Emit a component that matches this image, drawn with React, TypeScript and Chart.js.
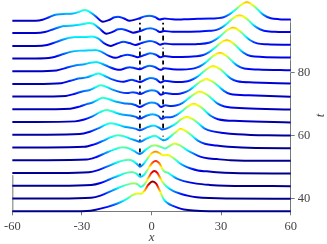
import { useEffect, useRef } from "react";
import { Chart, registerables } from "chart.js";

Chart.register(...registerables);

// time offsets of the stacked profiles (bottom to top)
const times = [36, 40, 44, 48, 52, 56, 60, 64, 68, 72, 76, 80, 84, 88, 92, 96];
const xTicks = [-60, -30, 0, 30, 60];
const tTicks = [40, 60, 80];
const markerX = [-5, 5];
const H_MAX = 9.5;

// profile heights above each baseline: [x, |u|]
const u36 = [[-60,0],[-40,0],[-28,0.1],[-24,0.5],[-19,1.4],[-15,2.4],[-11,3.8],[-8,5.2],[-6,5.7],[-4.5,5.6],[-3,6.5],[-1.5,8.3],[0.5,9.5],[2,8.8],[3.5,6.6],[5.3,3.8],[7,2.6],[9,1.8],[11.5,1.1],[14,0.6],[18,0.25],[25,0.05],[60,0]];
const u40 = [[-60,0.05],[-40,0.05],[-26,0.3],[-22,1.0],[-17,2.6],[-12.5,4.0],[-9,4.8],[-7.5,4.9],[-6,4.6],[-4.5,3.8],[-3,4.6],[-1.2,6.8],[0,8.2],[1.2,8.8],[2.5,8.2],[4,6.2],[5.3,4.8],[7,3.6],[9.5,2.4],[12.5,1.6],[16,0.9],[19.5,0.5],[25,0.2],[32,0.05],[60,0]];
const u44 = [[-60,0.1],[-40,0.1],[-26,0.35],[-22,1.0],[-18,2.2],[-14,3.4],[-10.5,4.3],[-8.5,4.5],[-6.5,4.0],[-4.8,3.0],[-3,3.8],[-1,6.0],[0.5,7.5],[1.9,8.0],[3.3,7.3],[5.3,4.8],[7,4.3],[9,3.3],[11,2.4],[14,1.6],[19.4,0.8],[25,0.4],[32,0.15],[60,0]];
const u48 = [[-60,0.15],[-40,0.15],[-27,0.4],[-23,1.1],[-19,2.3],[-15,3.5],[-12,4.2],[-10,4.4],[-8,4.0],[-6.2,3.0],[-5,2.2],[-3.5,3.0],[-1.5,5.0],[0,6.4],[1.9,6.9],[3.5,6.4],[5,5.8],[7,5.9],[9.5,4.9],[12,3.4],[14,2.5],[17,1.6],[20,1.0],[23.8,0.7],[28,0.4],[35,0.15],[60,0]];
const u52 = [[-60,0.25],[-45,0.25],[-28,0.45],[-24,1.2],[-20,2.5],[-16,3.7],[-12.5,4.4],[-10,4.1],[-7.5,3.2],[-5,2.2],[-2.5,3.6],[0,4.8],[1.5,5.0],[3.5,4.6],[6,4.0],[8,4.9],[10,5.6],[12.5,4.9],[15,3.6],[18,2.4],[21,1.4],[25,0.8],[28,0.6],[34,0.25],[40,0.1],[60,0.05]];
const u56 = [[-60,0.3],[-45,0.3],[-29,0.5],[-25,1.2],[-21,2.4],[-17.5,3.6],[-14.5,4.2],[-12,3.9],[-9.5,3.2],[-7,2.6],[-5,2.1],[-2,3.2],[1.5,4.0],[3.8,3.1],[5,2.6],[6.3,2.8],[7.8,3.6],[10,4.9],[12.5,6.2],[15.5,5.2],[17.5,4.0],[20,2.5],[23,1.5],[28,0.9],[33,0.5],[45,0.1],[60,0.05]];
const u60 = [[-60,0.35],[-45,0.35],[-31,0.55],[-27,1.2],[-23,2.4],[-20,3.5],[-17.5,4.0],[-15,3.7],[-12,3.0],[-9,2.6],[-7,2.3],[-5,1.8],[-2,2.7],[1,3.3],[3.3,2.6],[4.6,2.0],[6,2.2],[7.8,2.8],[10.3,3.8],[12.8,5.3],[15.3,6.0],[18.3,5.1],[20.3,3.9],[22.8,2.4],[26,1.5],[31,0.9],[37,0.5],[50,0.15],[60,0.1]];
const u64 = [[-60,0.4],[-50,0.4],[-33,0.6],[-29,1.2],[-25.5,2.2],[-22,3.6],[-19.5,4.2],[-17,3.8],[-14,3.0],[-11,2.6],[-9,2.5],[-7,2.1],[-5,1.5],[-2.5,2.3],[0.5,2.9],[3,2.3],[4.3,1.4],[6,1.9],[8.2,1.9],[10.7,2.6],[13.2,3.9],[15.7,5.4],[18.2,6.1],[21.2,5.2],[23.2,3.9],[25.7,2.3],[28.7,1.3],[38,0.7],[60,0.25]];
const u68 = [[-60,0.45],[-50,0.45],[-35,0.65],[-31,1.3],[-28,2.1],[-25.5,2.6],[-23,3.5],[-21,4.1],[-18.5,3.7],[-15.5,2.9],[-12,2.4],[-9,2.2],[-7,1.8],[-5,1.2],[-2.5,2.1],[0,2.6],[2.5,2.2],[4.1,1.2],[6,1.7],[8.5,1.5],[10.9,1.7],[13.4,2.5],[15.9,3.9],[18.4,5.3],[20.9,6.0],[23.9,5.1],[25.9,3.9],[28.4,2.3],[31.5,1.3],[40,0.8],[60,0.35]];
const u72 = [[-60,0.5],[-50,0.5],[-37,0.7],[-33,1.4],[-29.5,2.2],[-27,2.5],[-24,3.5],[-22,4.1],[-19.5,3.6],[-16.5,2.6],[-13.5,1.9],[-10.5,1.6],[-8,1.9],[-6.5,1.7],[-5,1.3],[-2.5,2.0],[0,2.5],[2.5,2.1],[4,1.1],[6,1.6],[9,1.3],[11,1.3],[13.7,1.7],[16.2,2.5],[18.7,3.9],[21.2,5.3],[23.7,6.0],[26.7,5.1],[28.7,3.9],[31.2,2.3],[34,1.3],[42,0.9],[60,0.45]];
const u76 = [[-60,0.5],[-50,0.5],[-39,0.75],[-35,1.5],[-31,2.3],[-28,2.6],[-25,3.4],[-23,3.8],[-20.5,3.2],[-17.5,2.1],[-14.5,1.4],[-12,1.2],[-10,1.6],[-8.5,1.8],[-6.8,1.5],[-5,1.1],[-2.5,1.9],[-0.5,2.4],[2,2.0],[3.9,1.0],[5.8,1.5],[9,1.2],[12,1.1],[14,1.2],[16.6,1.6],[19.1,2.5],[21.6,3.9],[24.1,5.4],[26.6,6.1],[29.6,5.2],[31.6,3.9],[34.1,2.3],[37,1.35],[44,1.0],[60,0.65]];
const u80 = [[-60,0.55],[-50,0.55],[-41,0.8],[-37,1.6],[-33,2.4],[-29,2.8],[-26,3.3],[-24,3.5],[-21.5,3.0],[-18.5,2.0],[-15.5,1.2],[-13.5,1.0],[-11,1.6],[-9.5,1.8],[-7.5,1.6],[-5.2,1.2],[-3,1.8],[-1,2.3],[1.5,1.9],[3.8,1.0],[5.8,1.5],[9,1.2],[13,1.1],[17,1.3],[19.4,1.7],[21.9,2.6],[24.4,4.0],[26.9,5.6],[29.4,6.35],[32.4,5.4],[34.4,4.0],[36.9,2.4],[40,1.4],[46,1.1],[60,0.85]];
const u84 = [[-60,0.6],[-50,0.6],[-43,0.9],[-39,1.8],[-35,2.7],[-31,3.1],[-27,3.2],[-24,3.3],[-21.5,2.7],[-18.5,1.5],[-15.5,0.8],[-13,1.4],[-10.5,1.8],[-8,1.5],[-6,1.0],[-3,1.7],[-0.5,2.3],[2,1.8],[3.8,1.0],[5.7,1.4],[9,1.1],[13,1.1],[19,1.3],[22.3,1.7],[24.8,2.6],[27.3,4.0],[29.8,5.6],[32.3,6.4],[35.3,5.4],[37.3,4.0],[39.8,2.4],[42.8,1.4],[48,1.1],[60,0.9]];
const u88 = [[-60,0.6],[-50,0.6],[-45,0.9],[-41,1.9],[-37,2.9],[-33,3.4],[-29,3.4],[-25.5,3.6],[-23,3.0],[-20.5,1.5],[-17.5,0.6],[-15,1.3],[-12,1.9],[-9.5,1.5],[-7,0.9],[-4,1.6],[-0.5,2.2],[2,1.7],[3.7,1.0],[5.6,1.4],[9,1.1],[14,1.1],[20,1.2],[25.1,1.7],[27.6,2.6],[30.1,4.0],[32.6,5.6],[35.1,6.4],[38,5.4],[40,4.0],[42.6,2.4],[45.6,1.4],[50,1.1],[60,0.95]];
const u92 = [[-60,0.7],[-50,0.7],[-46,1.0],[-42,2.0],[-38,2.9],[-34,3.1],[-30,3.5],[-27,3.9],[-25,3.6],[-22.5,2.2],[-19.5,0.5],[-17,1.0],[-14.5,1.9],[-13,2.0],[-10.5,1.5],[-8,0.8],[-5,1.3],[-2,2.1],[-0.5,2.2],[2,1.7],[3.6,1.0],[5.5,1.35],[9,1.1],[14,1.1],[20,1.2],[25,1.4],[28,1.7],[30.5,2.6],[33,4.0],[35.5,5.6],[38,6.3],[41,5.3],[43,3.9],[45.5,2.4],[48.5,1.4],[53,1.1],[60,1.0]];
const u96 = [[-60,0.6],[-50,0.6],[-47,0.9],[-44,1.8],[-41,2.6],[-37,2.8],[-34,2.9],[-31,3.5],[-29,4.0],[-27,3.6],[-24,2.0],[-21,0.3],[-18.5,0.8],[-16,1.7],[-14.5,1.9],[-12,1.4],[-9.5,0.6],[-6,1.2],[-3,2.0],[-1,2.2],[1.5,1.8],[3.5,1.0],[5.5,1.3],[9,1.1],[14,1.1],[20,1.2],[25,1.3],[28,1.4],[31,1.7],[33.5,2.6],[36,4.0],[38.5,5.6],[41,6.5],[44,5.4],[46,4.0],[48.5,2.4],[51.5,1.4],[55,1.1],[60,1.0]];

const profiles = [u36, u40, u44, u48, u52, u56, u60, u64, u68, u72, u76, u80, u84, u88, u92, u96];

const JET = [
  [0, "#000080"],
  [0.125, "#0000ff"],
  [0.375, "#00ffff"],
  [0.625, "#ffff00"],
  [0.875, "#ff0000"],
  [1, "#800000"],
] as const;

const SERIF = '"Liberation Serif", "DejaVu Serif", serif';

function jetGradient(chart: any, base: number) {
  const y = chart.scales?.y;
  if (!chart.chartArea || !y) return "#0000a0";
  const y0 = y.getPixelForValue(base);
  const y1 = y.getPixelForValue(base + H_MAX);
  const g = chart.ctx.createLinearGradient(0, y0, 0, y1);
  JET.forEach(([s, c]) => g.addColorStop(s, c));
  return g;
}

const decorations = {
  id: "decorations",
  beforeDatasetsDraw(chart: any) {
    const { ctx, scales } = chart;
    const x = scales.x;
    const y = scales.y;
    ctx.save();
    // dashed markers
    ctx.strokeStyle = "#000";
    ctx.lineWidth = 1.8;
    ctx.setLineDash([5, 3]);
    markerX.forEach((mx) => {
      const px = x.getPixelForValue(mx);
      ctx.beginPath();
      ctx.moveTo(px, y.getPixelForValue(y.max));
      ctx.lineTo(px, y.getPixelForValue(y.min));
      ctx.stroke();
    });
    ctx.setLineDash([]);
    // partially visible left spine
    ctx.strokeStyle = "#777";
    ctx.lineWidth = 1;
    const lx = x.getPixelForValue(x.min) + 0.5;
    ctx.beginPath();
    ctx.moveTo(lx, y.getPixelForValue(y.min));
    ctx.lineTo(lx, y.getPixelForValue(47.5));
    ctx.stroke();
    ctx.restore();
  },
  afterDraw(chart: any) {
    const { ctx, chartArea } = chart;
    ctx.save();
    ctx.fillStyle = "#444";
    ctx.font = `italic 13px ${SERIF}`;
    ctx.textAlign = "center";
    ctx.textBaseline = "middle";
    ctx.fillText("x", (chartArea.left + chartArea.right) / 2, 238);
    ctx.translate(321, (chartArea.top + chartArea.bottom) / 2);
    ctx.rotate(-Math.PI / 2);
    ctx.fillText("t", 0, 0);
    ctx.restore();
  },
};

export default function App() {
  const ref = useRef<HTMLCanvasElement>(null);

  useEffect(() => {
    document.body.style.margin = "0";
    const canvas = ref.current;
    if (!canvas) return;

    const datasets = profiles.map((p, i) => ({
      data: p.map(([x, h]) => ({ x, y: times[i] + h })),
      fill: { value: times[i] },
      backgroundColor: "#ffffff",
      borderColor: (ctx: any) => jetGradient(ctx.chart, times[i]),
      borderWidth: 2,
      pointRadius: 0,
      cubicInterpolationMode: "monotone" as const,
      clip: false as any,
    }));

    const axisGrid = {
      display: true,
      drawOnChartArea: false,
      drawTicks: true,
      tickLength: 4,
      color: "#777",
    };

    const chart = new Chart(canvas, {
      type: "line",
      data: { datasets },
      options: {
        animation: false,
        responsive: false,
        devicePixelRatio: 1,
        layout: { padding: { left: 10, top: 19.5, right: 0, bottom: 0 } },
        plugins: {
          legend: { display: false },
          tooltip: { enabled: false },
          filler: { drawTime: "beforeDatasetDraw" } as any,
        },
        scales: {
          x: {
            type: "linear",
            position: "bottom",
            min: -60,
            max: 60,
            grid: axisGrid,
            border: { display: true, color: "#777", width: 1 },
            ticks: {
              autoSkip: false,
              maxRotation: 0,
              padding: 4,
              color: "#444",
              font: { family: SERIF, size: 12.5 },
            },
            afterBuildTicks: (axis: any) => {
              axis.ticks = xTicks.map((v) => ({ value: v }));
            },
            afterFit: (axis: any) => {
              axis.height = 32.7;
            },
          },
          y: {
            type: "linear",
            position: "right",
            min: 36,
            max: 97,
            grid: axisGrid,
            border: { display: true, color: "#777", width: 1 },
            ticks: {
              autoSkip: false,
              padding: 3,
              color: "#444",
              font: { family: SERIF, size: 12.5 },
            },
            afterBuildTicks: (axis: any) => {
              axis.ticks = tTicks.map((v) => ({ value: v }));
            },
            afterFit: (axis: any) => {
              axis.width = 36.3;
            },
          },
        },
      },
      plugins: [decorations],
    });

    return () => chart.destroy();
  }, []);

  return (
    <canvas
      ref={ref}
      width={327}
      height={244}
      style={{ display: "block", width: 327, height: 244 }}
    />
  );
}
